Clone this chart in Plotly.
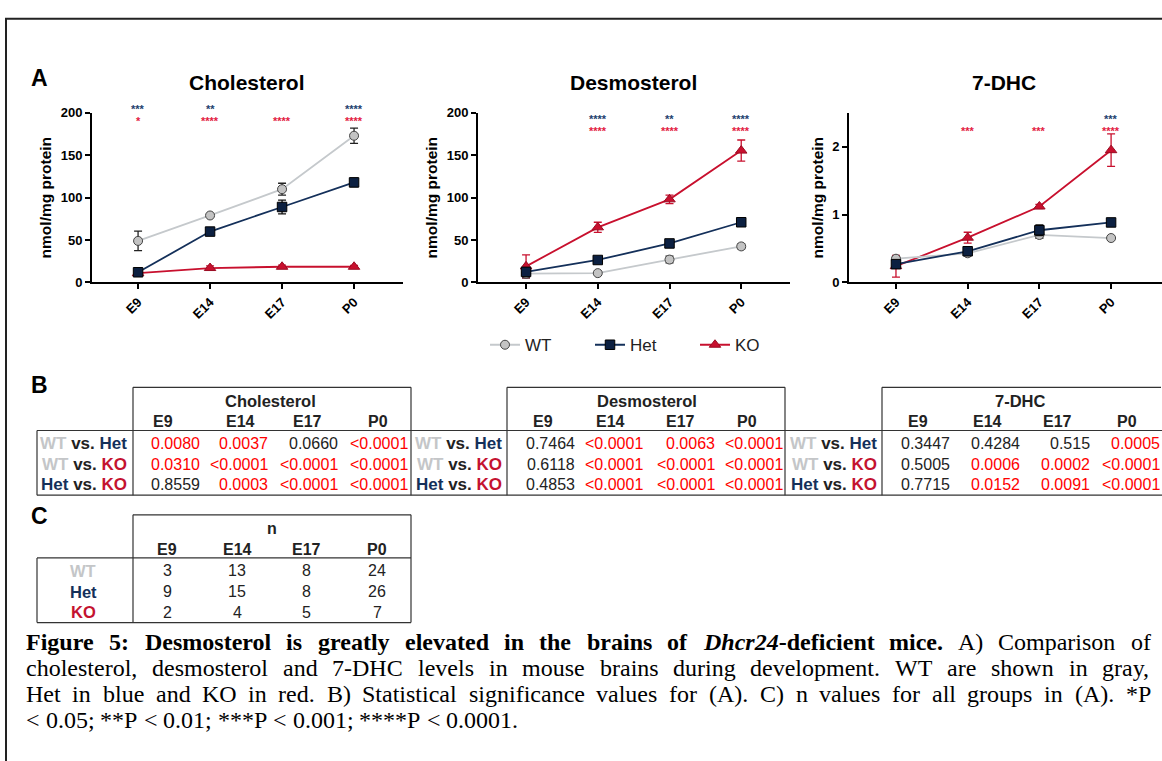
import plotly.graph_objects as go

W, H = 1162, 761
def px(x): return x / W
def py(y): return 1 - y / H

SANS = "Liberation Sans, Arial, sans-serif"
SERIF = "Liberation Serif, Times New Roman, serif"

# ---------------- data ----------------
stages = ["E9", "E14", "E17", "P0"]

chol_wt = [49, 79, 110, 173]
chol_wt_err = [11.5, 1.5, 7, 9]
chol_het = [12, 60, 89, 118]
chol_het_err = [1.5, 4, 8, 5]
chol_ko = [11, 17, 18.5, 18.5]
chol_ko_err = [1, 2.5, 2, 1.5]

desmo_wt = [10.5, 11, 27, 42.5]
desmo_wt_err = [5, 1, 4, 3]
desmo_het = [12.5, 26.5, 46, 71]
desmo_het_err = [2, 2, 3, 3.5]
desmo_ko = [19, 65, 98, 155.5]
desmo_ko_err = [13.5, 6, 5, 12.5]

dhc_wt = [0.35, 0.43, 0.70, 0.655]
dhc_wt_err = [0.03, 0.02, 0.05, 0.02]
dhc_het = [0.27, 0.46, 0.77, 0.885]
dhc_het_err = [0.05, 0.02, 0.08, 0.03]
dhc_ko = [0.24, 0.66, 1.12, 1.95]
dhc_ko_err = [0.16, 0.08, 0.03, 0.24]

chol_sig_het = ["***", "**", "", "****"]
chol_sig_ko = ["*", "****", "****", "****"]
desmo_sig_het = ["", "****", "**", "****"]
desmo_sig_ko = ["", "****", "****", "****"]
dhc_sig_het = ["", "", "", "***"]
dhc_sig_ko = ["", "***", "***", "****"]

comparisons = [("WT", "Het"), ("WT", "KO"), ("Het", "KO")]
chol_p = [["0.0080", "0.0037", "0.0660", "<0.0001"],
          ["0.0310", "<0.0001", "<0.0001", "<0.0001"],
          ["0.8559", "0.0003", "<0.0001", "<0.0001"]]
desmo_p = [["0.7464", "<0.0001", "0.0063", "<0.0001"],
           ["0.6118", "<0.0001", "<0.0001", "<0.0001"],
           ["0.4853", "<0.0001", "<0.0001", "<0.0001"]]
dhc_p = [["0.3447", "0.4284", "0.515", "0.0005"],
         ["0.5005", "0.0006", "0.0002", "<0.0001"],
         ["0.7715", "0.0152", "0.0091", "<0.0001"]]

n_wt = [3, 13, 8, 24]
n_het = [9, 15, 8, 26]
n_ko = [2, 4, 5, 7]

caption_lines = [
    "<b>Figure 5: Desmosterol is greatly elevated in the brains of <i>Dhcr24</i>-deficient mice.</b> A) Comparison of",
    "cholesterol, desmosterol and 7-DHC levels in mouse brains during development. WT are shown in gray,",
    "Het in blue and KO in red. B) Statistical significance values for (A). C) n values for all groups in (A). *P",
    "&lt; 0.05; **P &lt; 0.01; ***P &lt; 0.001; ****P &lt; 0.0001.",
]

# ---------------- styles ----------------
C_WT_LINE = "#c5c9cc"
C_WT_FILL = "#c3c3c3"
C_HET = "#14305a"
C_HET_FILL = "#0c2041"
C_KO = "#c8102e"
C_STAR_HET = "#22406e"
C_STAR_KO = "#e3203f"
GROUP_COL = {"WT": "#c4c6c8", "Het": "#14305a", "KO": "#c41230"}
AX_FONT = dict(family=SANS, size=13, color="black", weight="bold")

fig = go.Figure()

charts = [
    ("Cholesterol", chol_wt, chol_wt_err, chol_het, chol_het_err, chol_ko, chol_ko_err,
     chol_sig_het, chol_sig_ko, (92, 403), (-0.64, 3.68), (0, 200), [0, 50, 100, 150, 200],
     (101.5, 113.5), 247),
    ("Desmosterol", desmo_wt, desmo_wt_err, desmo_het, desmo_het_err, desmo_ko, desmo_ko_err,
     desmo_sig_het, desmo_sig_ko, (478, 790), (-0.67, 3.68), (0, 200), [0, 50, 100, 150, 200],
     (111.5, 123.5), 633),
    ("7-DHC", dhc_wt, dhc_wt_err, dhc_het, dhc_het_err, dhc_ko, dhc_ko_err,
     dhc_sig_het, dhc_sig_ko, (849, 1162), (-0.655, 3.71), (0, 2.5), [0, 1, 2],
     (111.5, 123.5), 1004),
]

annotations = []
shapes = []

for i, (title, wt, wte, het, hete, ko, koe, sh, sk, xdom, xr, yr, yt, starpx, tx) in enumerate(charts):
    xa = "x" if i == 0 else f"x{i+1}"
    ya = "y" if i == 0 else f"y{i+1}"
    show = i == 0
    fig.add_trace(go.Scatter(
        x=stages, y=ko, xaxis=xa, yaxis=ya, name="KO", legendgroup="KO", showlegend=show,
        legendrank=3, mode="lines+markers",
        line=dict(color=C_KO, width=1.8),
        marker=dict(symbol="triangle-up", size=10, color=C_KO, line=dict(color="#9a0d24", width=1)),
        error_y=dict(type="data", array=koe, color=C_KO, thickness=1.3, width=4)))
    fig.add_trace(go.Scatter(
        x=stages, y=wt, xaxis=xa, yaxis=ya, name="WT", legendgroup="WT", showlegend=show,
        legendrank=1, mode="lines+markers",
        line=dict(color=C_WT_LINE, width=1.8),
        marker=dict(symbol="circle", size=9, color=C_WT_FILL, line=dict(color="#444", width=1)),
        error_y=dict(type="data", array=wte, color="#222", thickness=1.3, width=4)))
    fig.add_trace(go.Scatter(
        x=stages, y=het, xaxis=xa, yaxis=ya, name="Het", legendgroup="Het", showlegend=show,
        legendrank=2, mode="lines+markers",
        line=dict(color=C_HET, width=1.8),
        marker=dict(symbol="square", size=9.5, color=C_HET_FILL, line=dict(color="#000", width=1)),
        error_y=dict(type="data", array=hete, color="#111", thickness=1.3, width=4)))

    axkey = "xaxis" if i == 0 else f"xaxis{i+1}"
    aykey = "yaxis" if i == 0 else f"yaxis{i+1}"
    fig.update_layout({
        axkey: dict(domain=[px(xdom[0]), px(xdom[1])], anchor=ya, type="category",
                    categoryorder="array", categoryarray=stages, range=list(xr),
                    showline=True, linecolor="black", linewidth=2, ticks="outside",
                    ticklen=5, tickwidth=2, tickcolor="black", tickangle=-45,
                    tickfont=AX_FONT, showgrid=False, zeroline=False),
        aykey: dict(domain=[py(281), py(108)], anchor=xa, range=list(yr), tickvals=yt,
                    showline=True, linecolor="black", linewidth=2, ticks="outside",
                    ticklen=5, tickwidth=2, tickcolor="black", tickfont=AX_FONT,
                    showgrid=False, zeroline=False,
                    title=dict(text="nmol/mg protein", standoff=5,
                               font=dict(family=SANS, size=15.5, color="black", weight="bold"))),
    })
    annotations.append(dict(text=f"<b>{title}</b>", x=px(tx), y=py(77), xref="paper", yref="paper",
                            showarrow=False, font=dict(family=SANS, size=21, color="black"),
                            xanchor="center", yanchor="middle"))
    for j, st in enumerate(stages):
        if sh[j]:
            annotations.append(dict(text=f"<b>{sh[j]}</b>", x=st, y=py(starpx[0] + 3), xref=xa,
                                    yref="paper", showarrow=False, yanchor="middle",
                                    font=dict(family=SANS, size=11, color=C_STAR_HET)))
        if sk[j]:
            annotations.append(dict(text=f"<b>{sk[j]}</b>", x=st, y=py(starpx[1] + 3), xref=xa,
                                    yref="paper", showarrow=False, yanchor="middle",
                                    font=dict(family=SANS, size=11, color=C_STAR_KO)))

# panel letters
for letter, (lx, ly) in zip(["A", "B", "C"], [(39, 72), (39, 386), (39, 519)]):
    annotations.append(dict(text=f"<b>{letter}</b>", x=px(lx), y=py(ly), xref="paper", yref="paper",
                            showarrow=False, xanchor="center", yanchor="middle",
                            font=dict(family=SANS, size=23, color="black")))

LINE = dict(color="#333", width=1.2)
def hline(x0, x1, y):
    shapes.append(dict(type="line", xref="paper", yref="paper", x0=px(x0), x1=px(x1),
                       y0=py(y), y1=py(y), line=LINE))
def vline(x, y0, y1):
    shapes.append(dict(type="line", xref="paper", yref="paper", x0=px(x), x1=px(x),
                       y0=py(y0), y1=py(y1), line=LINE))

def label_html(a, b):
    return (f"<b><span style='color:{GROUP_COL[a]}'>{a}</span> vs. "
            f"<span style='color:{GROUP_COL[b]}'>{b}</span></b>")

def txt(s, x, y, anchor="center", color="#222", size=16):
    annotations.append(dict(text=s, x=px(x), y=py(y), xref="paper", yref="paper", showarrow=False,
                            xanchor=anchor, yanchor="middle",
                            font=dict(family=SANS, size=size, color=color)))

# ---------------- table B ----------------
blocks = [
    ("Cholesterol", chol_p, 133, 411, 127, 270, [163, 240, 307, 378], [200, 268, 338, 408]),
    ("Desmosterol", desmo_p, 507, 785, 502, 647, [543, 610, 680, 747], [575, 643, 715, 783]),
    ("7-DHC", dhc_p, 882, 1161, 877, 1020, [918, 987, 1057, 1127], [950, 1020, 1090, 1160]),
]
row_y = [445, 466.5, 487.5]
hline(37, 1163, 432)
hline(37, 1163, 498)
vline(37, 432, 498)
for name, pv, hl, hr, lab_r, tcx, hcx, vr in blocks:
    hline(hl, hr, 388)
    vline(hl, 388, 498)
    if hr < 1160:
        vline(hr, 388, 498)
    txt(f"<b>{name}</b>", tcx, 402, size=16.5)
    for k, st in enumerate(stages):
        txt(f"<b>{st}</b>", hcx[k], 423)
    for r, (a, b) in enumerate(comparisons):
        txt(label_html(a, b), lab_r + 2, row_y[r], anchor="right", size=17)
        for k in range(4):
            s = pv[r][k]
            sig = s.startswith("<") or float(s) < 0.05
            txt(s.replace("<", "&lt;"), vr[k] + 2, row_y[r], anchor="right",
                color="#ff0000" if sig else "#222")

# ---------------- table C ----------------
hline(133, 411, 518)
vline(133, 518, 628)
vline(411, 518, 628)
hline(37, 411, 562)
hline(37, 411, 628)
vline(37, 562, 628)
txt("<b>n</b>", 272, 532)
nc_x = [167, 237, 306, 377]
for k, st in enumerate(stages):
    txt(f"<b>{st}</b>", nc_x[k], 553)
for r, (g, vals) in enumerate([("WT", n_wt), ("Het", n_het), ("KO", n_ko)]):
    ry = [575, 596.5, 617.5][r]
    txt(f"<b>{g}</b>", 83, ry, color=GROUP_COL[g], size=16.5)
    for k in range(4):
        txt(str(vals[k]), nc_x[k], ry)

# ---------------- caption (justified, word by word) ----------------
TR = dict(zip("abcdefghijklmnopqrstuvwxyz",
              [444, 500, 444, 500, 444, 333, 500, 500, 278, 278, 500, 278, 778, 500, 500, 500, 500,
               333, 389, 278, 500, 500, 722, 500, 500, 444]))
TR.update(dict(zip("ABCDEFGHIJKLMNOPQRSTUVWXYZ",
                   [722, 667, 667, 722, 611, 556, 722, 722, 333, 389, 722, 611, 889, 722, 722, 556,
                    722, 667, 556, 611, 722, 722, 944, 722, 722, 611])))
TR.update({c: 500 for c in "0123456789"})
TR.update({" ": 250, ",": 250, ".": 250, ":": 278, ";": 278, "(": 333, ")": 333, "*": 500,
           "-": 333, "<": 564})
TB = dict(TR)
TB.update(dict(zip("abcdefghijklmnopqrstuvwxyz",
                   [500, 556, 444, 556, 444, 333, 500, 556, 278, 333, 556, 278, 833, 556, 500, 556,
                    556, 444, 389, 333, 556, 500, 722, 500, 500, 444])))
TB.update({"D": 722, "F": 611, ":": 333})
TBI = dict(TB)
TBI.update({"D": 722, "h": 556, "c": 444, "r": 389})

CAP_SIZE = 24
def tokenize(s):
    words, cur = [], []
    bold = ital = False
    i = 0
    while i < len(s):
        for tag, attr, val in (("<b>", "b", True), ("</b>", "b", False),
                               ("<i>", "i", True), ("</i>", "i", False)):
            if s.startswith(tag, i):
                if attr == "b":
                    bold = val
                else:
                    ital = val
                i += len(tag)
                break
        else:
            if s.startswith("&lt;", i):
                ch, raw = "<", "&lt;"
                i += 4
            else:
                ch = raw = s[i]
                i += 1
            if ch == " ":
                if cur:
                    words.append(cur)
                cur = []
            else:
                cur.append((ch, raw, bold, ital))
    if cur:
        words.append(cur)
    out = []
    for w in words:
        width = 0
        html = ""
        for ch, raw, b, it in w:
            table = TBI if (b and it) else (TB if b else TR)
            width += table.get(ch, 500) * CAP_SIZE / 1000
            piece = raw
            if it:
                piece = f"<i>{piece}</i>"
            if b:
                piece = f"<b>{piece}</b>"
            html += piece
        out.append((html, width))
    return out

CAP_L, CAP_R = 25, 1150
cap_y = [648, 674.5, 701, 727.5]
for li, line in enumerate(caption_lines):
    words = tokenize(line)
    total = sum(w for _, w in words)
    last = li == len(caption_lines) - 1
    gap = 250 * CAP_SIZE / 1000 if last else (CAP_R - CAP_L - total) / (len(words) - 1)
    x = CAP_L
    for html, w in words:
        annotations.append(dict(text=html, x=px(x), y=py(cap_y[li]), xref="paper", yref="paper",
                                showarrow=False, xanchor="left", yanchor="middle", borderpad=0,
                                font=dict(family=SERIF, size=CAP_SIZE, color="black")))
        x += w + gap

# outer frame
shapes.append(dict(type="rect", xref="paper", yref="paper", x0=px(6), x1=px(1170),
                   y0=py(790), y1=py(12), line=dict(color="#222", width=2)))

fig.update_layout(
    width=W, height=H, margin=dict(l=0, r=0, t=0, b=0),
    paper_bgcolor="white", plot_bgcolor="white",
    showlegend=True,
    legend=dict(orientation="h", x=px(485), y=py(345), xanchor="left", yanchor="middle",
                font=dict(family=SANS, size=17, color="#222"),
                entrywidth=60, entrywidthmode="pixels", itemwidth=30,
                bgcolor="rgba(0,0,0,0)"),
    annotations=annotations, shapes=shapes,
)

fig.write_html("out.html")
